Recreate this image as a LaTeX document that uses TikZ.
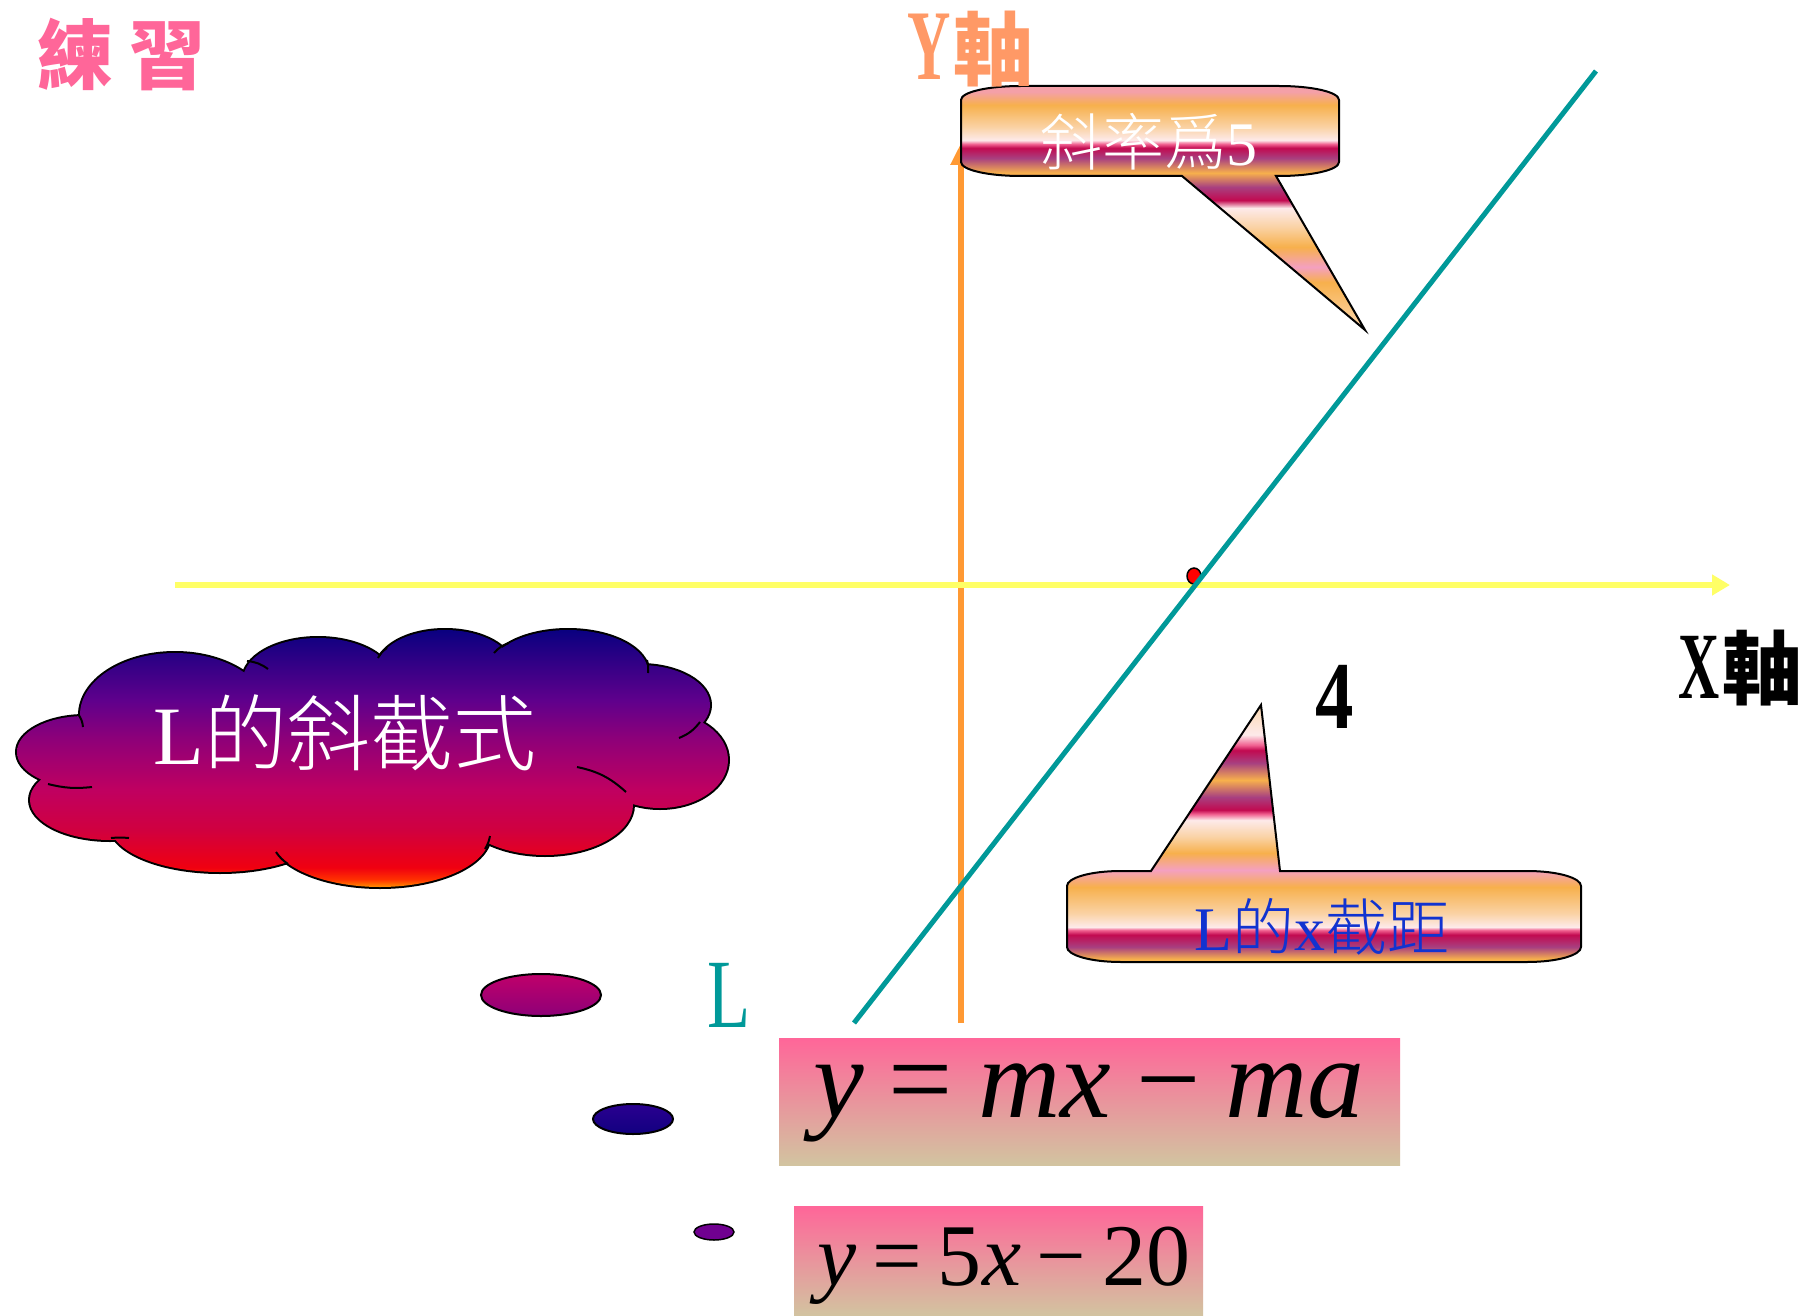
\documentclass[tikz,border=0pt]{standalone}
\usepackage{fontspec}
\usepackage{graphicx}
\setmainfont{Liberation Serif}
\newfontfamily\cjk{Noto Sans CJK TC}
\IfFontExistsTF{Noto Sans CJK TC Light}
  {\newfontfamily\cjkl{Noto Sans CJK TC Light}}
  {\newfontfamily\cjkl{Noto Sans CJK TC}}
\usetikzlibrary{arrows.meta}

\definecolor{pinkT}{HTML}{FF6699}
\definecolor{orangeT}{HTML}{FF9966}
\definecolor{axisOrange}{HTML}{FF9933}
\definecolor{axisYellow}{HTML}{FFFF66}
\definecolor{tealL}{HTML}{009999}
\definecolor{blueT}{HTML}{1133D0}
\definecolor{fbtop}{HTML}{FF6699}
\definecolor{fbbot}{HTML}{D2C4A0}
% callout stripe colours
\definecolor{cPink}{HTML}{F4A0A8}
\definecolor{cPinkB}{HTML}{F4A0C0}
\definecolor{cOrange}{HTML}{F7B04C}
\definecolor{cCream}{HTML}{FAD2A4}
\definecolor{cWhite}{HTML}{FDEAEA}
\definecolor{cHot}{HTML}{F06090}
\definecolor{cCrim}{HTML}{C20A50}
\definecolor{cPurp}{HTML}{A84080}
\definecolor{cTip}{HTML}{FCD8B0}
% cloud colours
\definecolor{kOrange}{HTML}{FF9000}
\definecolor{kRedO}{HTML}{FF3000}
\definecolor{kRed}{HTML}{F00010}
\definecolor{kCrim}{HTML}{D00040}
\definecolor{kMag}{HTML}{C00060}
\definecolor{kPM}{HTML}{900078}
\definecolor{kPurp}{HTML}{60008C}
\definecolor{kNavy}{HTML}{0A0080}
% bubble colours
\definecolor{eNavyT}{HTML}{2A0090}
\definecolor{eNavyB}{HTML}{120080}
\definecolor{eRose}{HTML}{C0006A}
\definecolor{ePlum}{HTML}{8E0078}
\definecolor{ePurp}{HTML}{700090}

\pgfdeclareverticalshading{calloutA}{100bp}{%
color(0bp)=(cTip); color(25bp)=(cTip); color(34.8bp)=(cOrange);
color(37.9bp)=(cPinkB); color(42bp)=(cOrange); color(46.1bp)=(cCream);
color(50bp)=(cWhite); color(51.6bp)=(cCrim); color(54.3bp)=(cPurp);
color(57.2bp)=(cOrange); color(60.2bp)=(cPurp); color(62.3bp)=(cCrim);
color(63.1bp)=(cHot); color(63.9bp)=(cWhite); color(66.6bp)=(cCream);
color(71.1bp)=(cOrange); color(73.8bp)=(cPink); color(75bp)=(cPink);
color(100bp)=(cPink)}

\pgfdeclareverticalshading{calloutB}{100bp}{%
color(0bp)=(cOrange); color(25bp)=(cOrange); color(25.6bp)=(cOrange);
color(27.9bp)=(cPurp); color(30.3bp)=(cCrim); color(31.2bp)=(cHot);
color(31.8bp)=(cWhite); color(34.5bp)=(cCream); color(39.6bp)=(cOrange);
color(42.9bp)=(cPinkB); color(46.2bp)=(cOrange); color(49.3bp)=(cCream);
color(52.6bp)=(cWhite); color(53.8bp)=(cHot); color(54.6bp)=(cCrim);
color(57.1bp)=(cPurp); color(60.4bp)=(cOrange); color(63.7bp)=(cPurp);
color(66.2bp)=(cCrim); color(67.2bp)=(cHot); color(69.2bp)=(cWhite);
color(75bp)=(cTip); color(100bp)=(cTip)}

\pgfdeclareverticalshading{cloudsh}{100bp}{%
color(0bp)=(kOrange); color(25bp)=(kOrange); color(26.5bp)=(kRedO);
color(28.8bp)=(kRed); color(36.2bp)=(kCrim); color(43.8bp)=(kMag);
color(53.5bp)=(kPM); color(61.2bp)=(kPurp); color(75bp)=(kNavy);
color(100bp)=(kNavy)}

\tikzset{
  calloutline/.style={draw=black, line width=2pt},
  txt/.style={inner sep=0pt, outer sep=0pt},
  fbox/.style={inner sep=0pt, draw=none, top color=fbtop, bottom color=fbbot},
  curl/.style={draw=black, line width=2pt},
}

\begin{document}
\begin{tikzpicture}[x=1pt, y=-1pt]
\useasboundingbox (0,0) rectangle (1805,1316);
\fill[white] (0,0) rectangle (1805,1316);

% ---------- cloud ----------
\foreach \cx/\cy/\rx/\ry in {85/752/68/36, 175/715/95/62, 318/680/75/42,
   445/668/68/38, 568/672/80/42, 640/705/70/40, 660/760/68/48,
   545/805/88/50, 380/835/110/52, 220/825/110/47, 110/800/80/40}
  \draw[line width=4pt] (\cx,\cy) ellipse[x radius=\rx, y radius=\ry];
\path[shading=cloudsh]
  (85,752) ellipse[x radius=68, y radius=36]
  (175,715) ellipse[x radius=95, y radius=62]
  (318,680) ellipse[x radius=75, y radius=42]
  (445,668) ellipse[x radius=68, y radius=38]
  (568,672) ellipse[x radius=80, y radius=42]
  (640,705) ellipse[x radius=70, y radius=40]
  (660,760) ellipse[x radius=68, y radius=48]
  (545,805) ellipse[x radius=88, y radius=50]
  (380,835) ellipse[x radius=110, y radius=52]
  (220,825) ellipse[x radius=110, y radius=47]
  (110,800) ellipse[x radius=80, y radius=40]
  (370,760) ellipse[x radius=280, y radius=80];
% inner curls
\draw[curl] (78,714) to[bend left=15] (83,727);
\draw[curl] (48,784) to[bend right=10] (92,787);
\draw[curl] (247,661) to[bend left=15] (268,669);
\draw[curl] (378,658) to[bend left=15] (387,648);
\draw[curl] (494,653) to[bend left=15] (509,643);
\draw[curl] (647,660) to[bend left=10] (648,673);
\draw[curl] (679,738) to[bend right=15] (700,722);
\draw[curl] (577,767) to[bend left=15] (626,792);
\draw[curl] (490,836) to[bend left=10] (485,849);
\draw[curl] (276,852) to[bend right=10] (288,864);
\draw[curl] (111,838) to[bend left=5] (129,838);
\node[txt, anchor=base, text=white] (cloudtxt) at (345,764)
  {\fontsize{83}{83}\selectfont L{\cjkl 的斜截式}};

% ---------- thought bubbles ----------
\path[draw=black, line width=2pt, top color=eRose, bottom color=ePlum] (541,995) ellipse[x radius=60, y radius=21];
\path[draw=black, line width=2pt, top color=eNavyT, bottom color=eNavyB] (633,1119) ellipse[x radius=40, y radius=15];
\path[draw=black, line width=1.5pt, fill=ePurp] (714,1232) ellipse[x radius=20, y radius=8];

% ---------- axes ----------
\coordinate (ys) at (961,1023);
\coordinate (ye) at (961,143);
\draw[axisOrange, line width=6pt, -{Triangle[length=22pt,width=20pt]}] (ys) -- (ye);
\coordinate (xs) at (175,585);
\coordinate (xe) at (1730,585);
\draw[axisYellow, line width=6pt, -{Triangle[length=18pt,width=20pt]}] (xs) -- (xe);

% red point
\coordinate (pt) at (1194,576);
\path[draw=black, line width=1.5pt, fill=red] (pt) ellipse[x radius=7, y radius=8];

% line L
\coordinate (ls) at (854,1023);
\coordinate (le) at (1596,71);
\draw[tealL, line width=5pt] (ls) -- (le);

% ---------- callout 1 ----------
\path[calloutline, shading=calloutA]
  (1021,86) -- (1279,86)
  .. controls (1312,86) and (1339,92) .. (1339,100) -- (1339,162)
  .. controls (1339,170) and (1312,176) .. (1279,176)
  -- (1276,176) -- (1365,330) -- (1182,176) -- (1021,176)
  .. controls (988,176) and (961,170) .. (961,162) -- (961,100)
  .. controls (961,92) and (988,86) .. (1021,86) -- cycle;
\node[txt, anchor=base, text=white] (slope) at (1149,166)
  {\fontsize{62}{62}\selectfont{\cjkl 斜率爲}5};

% ---------- callout 2 ----------
\path[calloutline, shading=calloutB]
  (1067,886) .. controls (1067,878) and (1090,871) .. (1121,871)
  -- (1151,871) -- (1261,705) -- (1280,871) -- (1527,871)
  .. controls (1558,871) and (1581,878) .. (1581,886) -- (1581,947)
  .. controls (1581,955) and (1558,962) .. (1527,962) -- (1121,962)
  .. controls (1090,962) and (1067,955) .. (1067,947) -- cycle;
\node[txt, anchor=base, text=blueT] (xint) at (1322,950)
  {\fontsize{62}{62}\selectfont L{\cjkl 的}x{\cjkl 截距}};

% ---------- labels ----------
\node[txt, anchor=base west, text=pinkT] (lianxi) at (37,84)
  {\cjk\bfseries\fontsize{76}{76}\selectfont 練\hspace{17pt}習};
\node[txt, anchor=base west, text=orangeT] (ylab) at (907,80)
  {\scalebox{0.6}[1]{\fontsize{100}{100}\selectfont\bfseries Y}\hspace{3pt}{\cjk\bfseries\fontsize{80}{80}\selectfont 軸}};
\node[txt, anchor=base west, text=black] (xlab) at (1678,698)
  {\scalebox{0.6}[1]{\fontsize{95}{95}\selectfont\bfseries X}\hspace{3pt}{\cjk\bfseries\fontsize{80}{80}\selectfont 軸}};
\node[txt, anchor=base, text=black] (four) at (1335,728)
  {\scalebox{0.8}[1]{\fontsize{96}{96}\selectfont\bfseries 4}};
\node[txt, anchor=base, text=tealL] (Lname) at (729,1027)
  {\scalebox{0.72}[1]{\fontsize{98}{98}\selectfont L}};

% ---------- formula boxes ----------
\node[fbox, minimum width=621pt, minimum height=127pt] (f1) at (1089.5,1101.5) {};
\node[txt, anchor=base] (eq1) at (1089,1117)
  {\fontsize{114}{114}\selectfont\itshape y\hspace{.22em}\upshape=\hspace{.22em}\itshape mx\hspace{.22em}\upshape−\hspace{.22em}\itshape ma};
\node[fbox, minimum width=409pt, minimum height=110pt] (f2) at (998.5,1261) {};
\node[txt, anchor=base] (eq2) at (1004,1285)
  {\fontsize{88}{88}\selectfont\itshape y\hspace{.18em}\upshape=\hspace{.18em}5\itshape x\hspace{.18em}\upshape−\hspace{.18em}20};
\end{tikzpicture}
\end{document}
